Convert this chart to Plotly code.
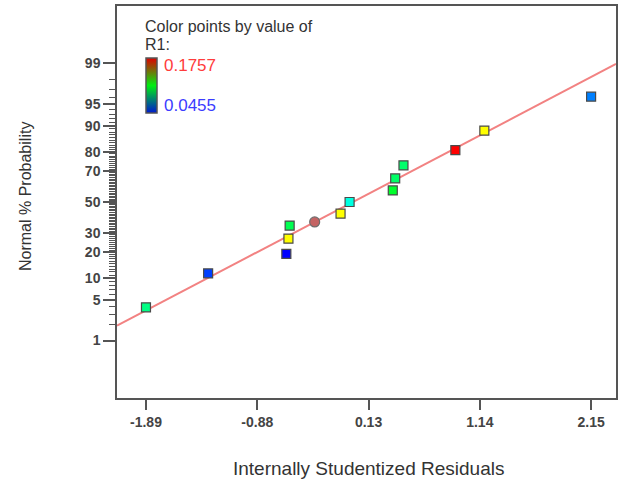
from statistics import NormalDist
import plotly.graph_objects as go

# Residuals sorted ascending with their normal % probability
residuals = [-1.89, -1.326, -0.616, -0.597, -0.586, -0.124, -0.042,
             0.350, 0.372, 0.447, 0.918, 1.181, 2.15]
normal_pct = [3.85, 11.54, 19.23, 26.92, 34.62, 42.31, 50.00,
              57.69, 65.38, 73.08, 80.77, 88.46, 96.15]
r1_values = [0.0937, 0.0536, 0.0455, 0.1432, 0.1002, 0.1432, 0.0820,
             0.1050, 0.0976, 0.0970, 0.1757, 0.1432, 0.0618]

# Highlighted run
flag_residual = [-0.359]
flag_pct = [36.9]

# Reference line in normal-score units: z = slope * residual + intercept
fit_slope = 0.970
fit_intercept = 0.013

r1_min, r1_max = 0.0455, 0.1757

x_ticks = [-1.89, -0.88, 0.13, 1.14, 2.15]
x_tick_labels = ["-1.89", "-0.88", "0.13", "1.14", "2.15"]
y_major_pct = [1, 5, 10, 20, 30, 50, 70, 80, 90, 95, 99]
y_minor_pct = [p for p in range(1, 100) if p not in y_major_pct]

nd = NormalDist()


def probit(pct):
    return nd.inv_cdf(pct / 100.0)


x_range = [-2.153, 2.376]
y_range = [probit(0.05), probit(99.95)]

rainbow = [[0.0, "#0000ff"], [0.25, "#00ffff"], [0.5, "#00ff00"],
           [0.75, "#ffff00"], [1.0, "#ff0000"]]
legend_scale = [[0.0, "#0018d0"], [0.5, "#00ee10"], [1.0, "#e00000"]]

axis_color = "#555555"
font_family = "Liberation Sans, Arial, sans-serif"

fig = go.Figure()

# Normal reference line
fig.add_trace(go.Scatter(
    x=x_range,
    y=[fit_slope * v + fit_intercept for v in x_range],
    mode="lines",
    line=dict(color="#f28282", width=2),
    hoverinfo="skip",
    showlegend=False,
))

# Residual points coloured by R1
fig.add_trace(go.Scatter(
    x=residuals,
    y=[probit(p) for p in normal_pct],
    mode="markers",
    marker=dict(
        symbol="square",
        size=9,
        color=r1_values,
        colorscale=rainbow,
        cmin=r1_min,
        cmax=r1_max,
        showscale=False,
        line=dict(color="#4a4a4a", width=1.2),
    ),
    showlegend=False,
))

# Highlighted point
fig.add_trace(go.Scatter(
    x=flag_residual,
    y=[probit(p) for p in flag_pct],
    mode="markers",
    marker=dict(symbol="circle", size=10, color="#c46464",
                line=dict(color="#6e6e6e", width=1.2)),
    showlegend=False,
))

# Colour key for R1
fig.add_trace(go.Scatter(
    x=[None],
    y=[None],
    mode="markers",
    marker=dict(
        color=[r1_min],
        colorscale=legend_scale,
        cmin=r1_min,
        cmax=r1_max,
        showscale=True,
        colorbar=dict(
            x=0.058, xanchor="left", xpad=0,
            y=0.868, yanchor="top", ypad=0,
            len=55, lenmode="pixels",
            thickness=11, thicknessmode="pixels",
            outlinewidth=1.5, outlinecolor="#555555",
            showticklabels=False, ticks="",
        ),
    ),
    showlegend=False,
    hoverinfo="skip",
))

tick_font = dict(family=font_family, size=14, color="#444444", weight="bold")

fig.update_layout(
    width=622,
    height=485,
    margin=dict(l=117, r=4, t=5, b=87),
    paper_bgcolor="white",
    plot_bgcolor="white",
    font=dict(family=font_family, color="#333333"),
    xaxis=dict(
        range=x_range,
        showgrid=False, zeroline=False,
        showline=True, linecolor=axis_color, linewidth=1.5, mirror=True,
        ticks="outside", ticklen=10, tickwidth=1.5, tickcolor=axis_color,
        tickmode="array", tickvals=x_ticks, ticktext=x_tick_labels,
        tickfont=tick_font,
    ),
    yaxis=dict(
        range=y_range,
        showgrid=False, zeroline=False,
        showline=True, linecolor=axis_color, linewidth=1.5, mirror=True,
        ticks="outside", ticklen=12, tickwidth=1.5, tickcolor=axis_color,
        tickmode="array",
        tickvals=[probit(p) for p in y_major_pct],
        ticktext=[str(p) for p in y_major_pct],
        tickfont=tick_font,
        minor=dict(
            tickmode="array",
            tickvals=[probit(p) for p in y_minor_pct],
            ticks="outside", ticklen=6, tickwidth=1, tickcolor=axis_color,
            showgrid=False,
        ),
    ),
    annotations=[
        dict(text="Color points by value of", xref="paper", yref="paper",
             x=0.052, y=0.9466, xanchor="left", yanchor="middle",
             showarrow=False, font=dict(size=16, color="#333333")),
        dict(text="R1:", xref="paper", yref="paper",
             x=0.052, y=0.9008, xanchor="left", yanchor="middle",
             showarrow=False, font=dict(size=16, color="#333333")),
        dict(text="0.1757", xref="paper", yref="paper",
             x=0.090, y=0.8473, xanchor="left", yanchor="middle",
             showarrow=False, font=dict(size=17, color="#ff3c3c")),
        dict(text="0.0455", xref="paper", yref="paper",
             x=0.090, y=0.7455, xanchor="left", yanchor="middle",
             showarrow=False, font=dict(size=17, color="#3c3cff")),
        dict(text="Normal % Probability", xref="paper", yref="paper",
             x=0, y=0.5, xanchor="center", yanchor="middle",
             xshift=-92, yshift=5, textangle=-90,
             showarrow=False, font=dict(size=16, color="#333333")),
        dict(text="Internally Studentized Residuals", xref="paper", yref="paper",
             x=0.5, y=0, xanchor="center", yanchor="middle",
             xshift=2, yshift=-70,
             showarrow=False, font=dict(size=19, color="#333333")),
    ],
)

fig.write_html("out.html")
